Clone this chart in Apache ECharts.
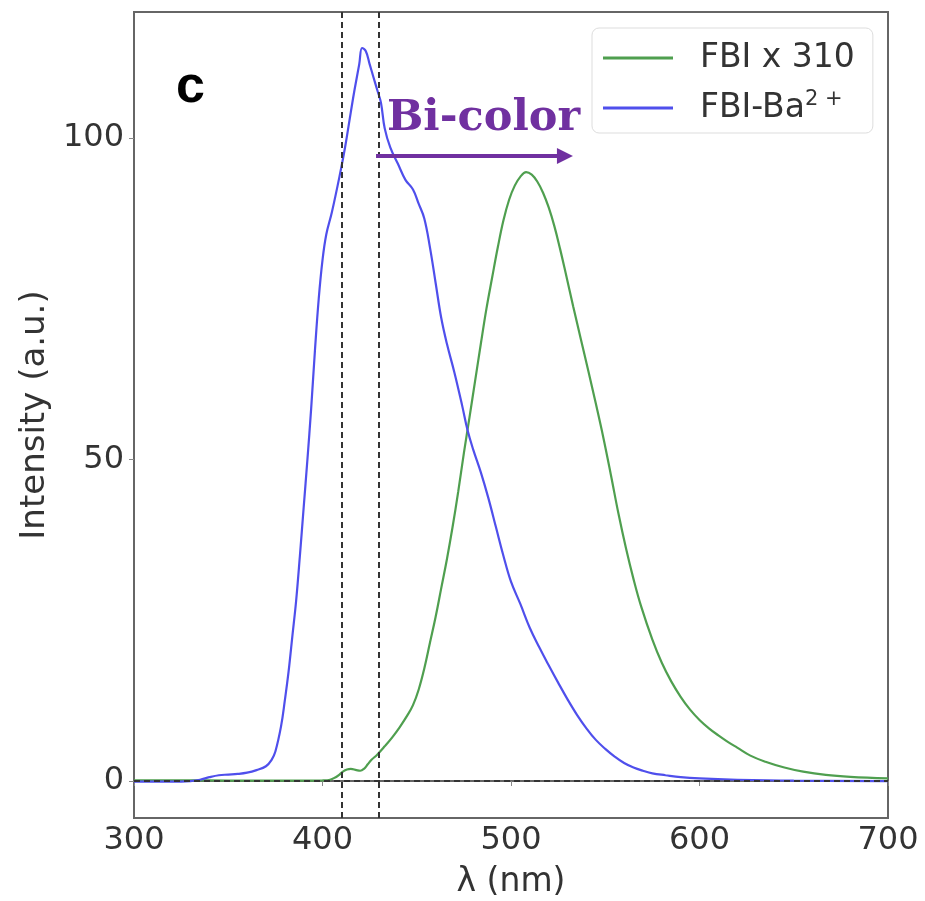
<!DOCTYPE html>
<html>
<head>
<meta charset="utf-8">
<script src="https://cdn.jsdelivr.net/npm/echarts@6/dist/echarts.min.js"></script>
<style>
html,body{margin:0;padding:0;background:#fff;}
#chart{width:925px;height:901px;}
</style>
</head>
<body>
<div id="chart"></div>
<script>
// ---- data ----
const xTicks = [300, 400, 500, 600, 700];
const yTicks = [0, 50, 100];
const seriesNames = ['FBI x 310', 'FBI-Ba2+'];

const fbiWavelength = [300,320,340,360,380,400,404,407,409,411,413,415,418,420,422,424,426,429,433,437,441,445,448,451,454,457,460,463,466,469,472,475,478,481,484,487,490,493,496,499,502,505,508,511,514,517,520,523,526,529,533,537,541,545,549,553,557,561,565,569,575,580,585,590,595,600,605,610,615,620,627,635,645,655,667,680,700];
const fbiIntensity = [0.1,0.1,0.1,0.05,0.05,0.1,0.2,0.6,1.0,1.5,1.8,1.9,1.7,1.6,1.9,2.6,3.3,4.1,5.4,6.8,8.4,10.2,11.8,14.2,17.5,21.5,25.5,30,34.5,39.5,45,51,56.6,62.3,68,73.5,78.3,83,87.2,90.4,92.6,94,94.7,94.3,93.2,91.5,89.2,86.3,82.8,79,73.8,68.8,63.8,58.7,53.4,47.6,41.6,36.2,31.4,27.2,22,18.4,15.5,13.1,11.1,9.5,8.2,7.1,6.1,5.2,3.95,3,2.1,1.45,0.95,0.65,0.4];

const fbiBaWavelength = [300,310,320,330,335,340,345,350,355,360,365,370,373,375,378,380,382,384,386,388,390,392,394,396,398,400,402,405,409,412,415,417,419.5,421,423,425,427,429,431,433,436,440,444,448,451,454,457,460,463,466,470,474,477,480,484,488,492,496,500,505,510,515,520,525,530,535,540,545,550,555,560,565,570,575,582,590,600,620,650,700];
const fbiBaIntensity = [-0.1,-0.1,-0.1,0,0.2,0.6,0.9,1.0,1.1,1.3,1.7,2.3,3.3,4.6,8.5,12.5,17,22.5,28,35,42.5,50,58,67,75,81,85,88.5,94,98.6,104,107.5,111.5,114,113.5,111.5,109.5,107.5,105.5,101.5,98.5,96,93.5,92,89.8,87.5,83,77.5,72,68,63.5,58.5,54.5,51.5,48,44,39.5,35,31,27.5,23.8,20.8,18,15.3,12.7,10.3,8.2,6.4,5,3.8,2.8,2.1,1.6,1.2,0.9,0.6,0.4,0.2,0.05,0,0];

const markerLinesX = [410, 430];
const markerLineY = 0;
const arrowStart = [428.4, 97.2];
const arrowEnd = [528.6, 97.2];

// ---- chart ----
const zip = (xs, ys) => xs.map((x, i) => [x, ys[i]]);
const chart = echarts.init(document.getElementById('chart'), null, {renderer: 'canvas'});
const FONT = 'DejaVu Sans';
const TXT = '#333';
const GREEN = '#4f9f4f';
const BLUE = '#4f4fec';

const option = {
  animation: false,
  backgroundColor: '#fff',
  grid: {left: 134, right: 37, top: 12, bottom: 83, show: true, borderColor: '#666', borderWidth: 2, backgroundColor: 'transparent', containLabel: false, outerBoundsMode: 'none'},
  legend: {
    left: 592, top: 28,
    orient: 'vertical',
    data: seriesNames,
    icon: 'rect',
    itemWidth: 70, itemHeight: 3, itemGap: 12,
    padding: [11, 18, 6, 11],
    backgroundColor: '#fff',
    borderColor: '#ddd', borderWidth: 1, borderRadius: 7,
    selectedMode: false,
    formatter: function (n) { return n === 'FBI-Ba2+' ? 'FBI-Ba{sup|2 +}' : n; },
    textStyle: {
      fontFamily: FONT, fontSize: 33, color: TXT, lineHeight: 38, padding: [0, 0, 0, 22],
      rich: {sup: {fontFamily: FONT, fontSize: 21, color: TXT, lineHeight: 27, verticalAlign: 'top'}}
    }
  },
  xAxis: {
    type: 'value', min: 300, max: 700, interval: 100,
    name: 'λ (nm)', nameLocation: 'middle', nameGap: 48,
    nameTextStyle: {fontFamily: FONT, fontSize: 33, color: TXT},
    axisLine: {show: true, lineStyle: {color: '#666', width: 2}},
    axisTick: {show: true, length: 5, lineStyle: {color: '#888'}},
    axisLabel: {fontFamily: FONT, fontSize: 32, color: TXT, margin: 7},
    splitLine: {show: false}
  },
  yAxis: {
    type: 'value', min: -5.75, max: 119.6,
    name: 'Intensity (a.u.)', nameLocation: 'middle', nameGap: 80,
    nameTextStyle: {fontFamily: FONT, fontSize: 34, color: TXT},
    axisLine: {show: true, lineStyle: {color: '#666', width: 2}},
    axisTick: {show: true, length: 5, lineStyle: {color: '#888'}, customValues: yTicks},
    axisLabel: {fontFamily: FONT, fontSize: 32, color: TXT, margin: 10, customValues: yTicks},
    splitLine: {show: false}
  },
  series: [
    {
      name: seriesNames[0], type: 'line', data: zip(fbiWavelength, fbiIntensity),
      symbol: 'none', smooth: 0.4,
      lineStyle: {color: GREEN, width: 2.2}, itemStyle: {color: GREEN},
      z: 3,
      markLine: {
        silent: true, symbol: ['none', 'none'], animation: false,
        label: {show: false},
        lineStyle: {color: '#333', width: 2, type: [6, 4]},
        data: markerLinesX.map(v => ({xAxis: v})).concat([{yAxis: markerLineY}])
      }
    },
    {
      name: seriesNames[1], type: 'line', data: zip(fbiBaWavelength, fbiBaIntensity),
      symbol: 'none', smooth: 0.4,
      lineStyle: {color: BLUE, width: 2.2}, itemStyle: {color: BLUE},
      z: 4,
      markLine: {
        silent: true, animation: false,
        symbol: ['none', 'triangle'], symbolSize: [16, 16],
        label: {show: false},
        lineStyle: {color: '#7030A0', width: 4, type: 'solid'},
        itemStyle: {color: '#7030A0'},
        data: [[{coord: arrowStart}, {coord: arrowEnd}]]
      }
    }
  ],
  graphic: [
    {type: 'text', left: 176, top: 62, style: {text: 'c', fontFamily: 'Liberation Sans', fontWeight: 'bold', fontSize: 52, fill: '#000'}},
    {type: 'text', left: 387, top: 97, style: {text: 'Bi-color', fontFamily: 'DejaVu Serif', fontWeight: 'bold', fontSize: 43, fill: '#7030A0'}}
  ]
};
chart.setOption(option);
</script>
</body>
</html>
